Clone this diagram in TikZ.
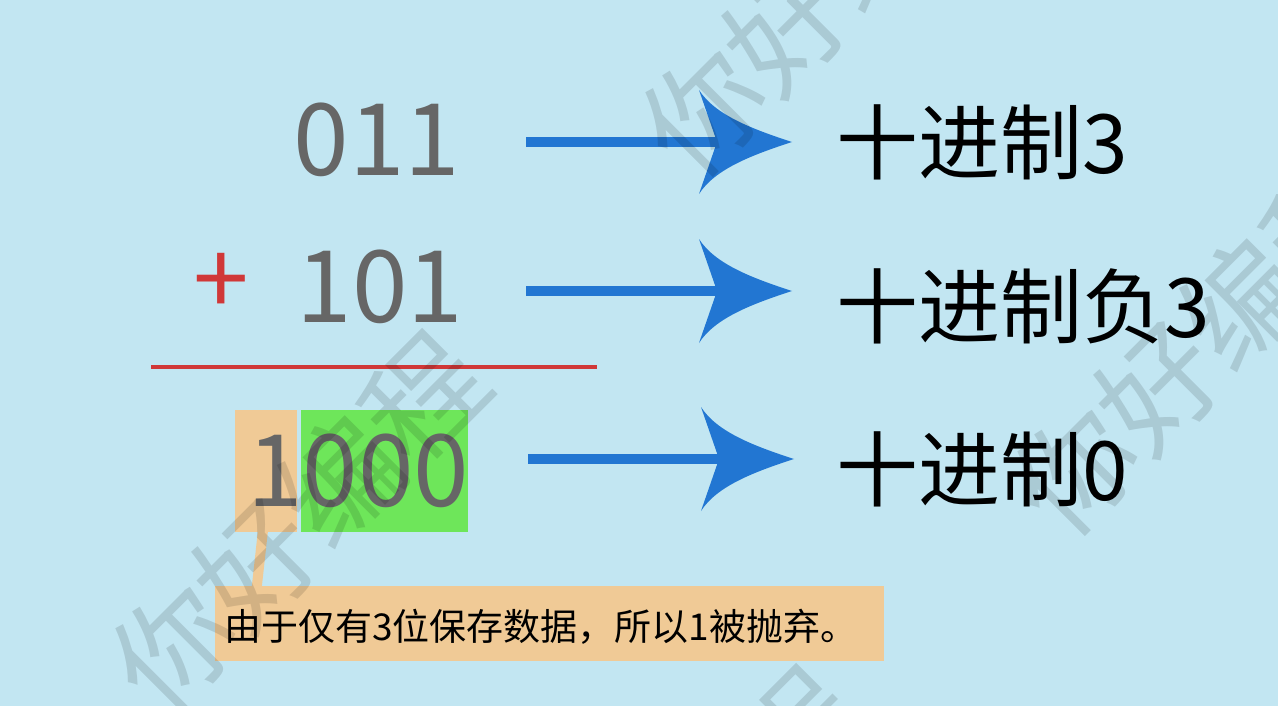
\documentclass[tikz,border=0pt]{standalone}
\usepackage{fontspec}
\setmainfont{Noto Sans CJK SC}
\usetikzlibrary{calc}
\definecolor{bgc}{HTML}{C2E6F2}
\definecolor{numgray}{HTML}{666666}
\definecolor{redc}{HTML}{D03838}
\definecolor{bluec}{HTML}{2276D2}
\definecolor{orangec}{HTML}{F0CA96}
\definecolor{greenc}{HTML}{6EE65A}
\tikzset{
  num/.style={anchor=base, inner sep=0pt, text=numgray, font=\fontsize{100}{100}\selectfont},
  res/.style={anchor=base west, inner sep=0pt, text=black, font=\fontsize{82}{82}\selectfont},
  shaft/.style={draw=bluec, line width=10pt},
  headc/.style={fill=bluec},
  wmark/.style={text=black, text opacity=0.12, rotate=45, inner sep=0pt, font=\fontsize{118}{118}\selectfont},
  boxc/.style={inner sep=0pt, draw=none},
}
\newcommand{\bluearrow}[2]{%
  \draw[shaft] (#1) -- ($(#2)+(-70,0)$);
  \fill[headc] (#2) .. controls ($(#2)+(-40,-13)$) and ($(#2)+(-77,-27)$) .. ($(#2)+(-93,-52)$)
     -- ($(#2)+(-75,0)$) -- ($(#2)+(-93,52)$)
     .. controls ($(#2)+(-77,27)$) and ($(#2)+(-40,13)$) .. (#2) -- cycle;
}
\begin{document}
\begin{tikzpicture}[x=1pt,y=-1pt]
\useasboundingbox (0,0) rectangle (1278,706);
\fill[bgc] (0,0) rectangle (1278,706);
\clip (0,0) rectangle (1278,706);

% highlight boxes
\node[boxc, fill=orangec, minimum width=62pt, minimum height=122pt] (b1) at (266,471) {};
\node[boxc, fill=greenc, minimum width=167pt, minimum height=122pt] (b2) at (384.5,471) {};

% left numbers
\node[num] (n1) at (377,176) {011};
\node[num] (n2) at (380,322) {101};
\node[inner sep=0pt, text=redc, font=\fontsize{100}{100}\selectfont] (plus) at (221,284) {+};
\node[num] (n3) at (358,506) {1000};

% red rule
\coordinate (l1) at (151,367);
\coordinate (l2) at (597,367);
\draw[redc, line width=4pt] (l1) -- (l2);

% callout
\node[boxc, fill=orangec, minimum width=669pt, minimum height=75pt] (c) at (549.5,623.5) {};
\node[anchor=base west, inner sep=0pt, font=\fontsize{37}{37}\selectfont] (ct) at (224,640) {由于仅有3位保存数据，所以1被抛弃。};
\draw[orangec, line width=10pt] ($(b1.south)+(-3,-2)$) -- ($(c.north west)+(42,1)$);

% arrows
\coordinate (a1s) at (526,142); \coordinate (a1e) at (792,142);
\coordinate (a2s) at (526,291); \coordinate (a2e) at (792,291);
\coordinate (a3s) at (528,459); \coordinate (a3e) at (794,459);
\bluearrow{a1s}{a1e}
\bluearrow{a2s}{a2e}
\bluearrow{a3s}{a3e}

% results
\node[res] (r1) at (836,174) {十进制3};
\node[res] (r2) at (836,337) {十进制负3};
\node[res] (r3) at (836,500) {十进制0};

% watermarks
\node[wmark] (w1) at (298,522) {你好编程};
\node[wmark] (w2) at (1200,345) {你好编程};
\node[wmark] (w3) at (828,-14) {你好编程};
\node[wmark] (w4) at (672,857) {你好编程};
\end{tikzpicture}
\end{document}
